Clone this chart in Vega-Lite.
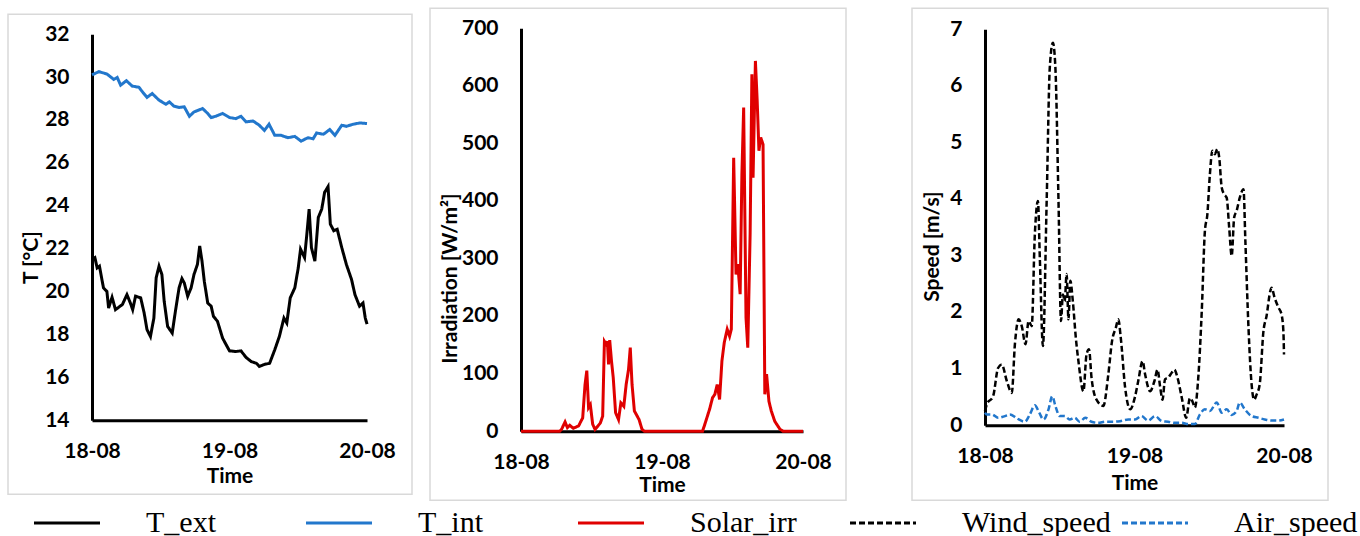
{
  "$schema": "https://vega.github.io/schema/vega-lite/v6.json",
  "padding": {"left": 7, "top": 7, "right": 0, "bottom": 0},
  "background": "white",
  "datasets": {
    "temp": [
      {"t":"2023-08-18T00:00","s":"T_ext","v":21.5},{"t":"2023-08-18T00:30","s":"T_ext","v":21.58},{"t":"2023-08-18T00:54","s":"T_ext","v":21.1},{"t":"2023-08-18T01:18","s":"T_ext","v":21.18},{"t":"2023-08-18T02:00","s":"T_ext","v":20.17},{"t":"2023-08-18T02:36","s":"T_ext","v":20.0},{"t":"2023-08-18T02:54","s":"T_ext","v":19.23},{"t":"2023-08-18T03:30","s":"T_ext","v":19.73},{"t":"2023-08-18T04:06","s":"T_ext","v":19.15},{"t":"2023-08-18T05:18","s":"T_ext","v":19.39},{"t":"2023-08-18T06:06","s":"T_ext","v":19.85},{"t":"2023-08-18T06:42","s":"T_ext","v":19.46},{"t":"2023-08-18T07:06","s":"T_ext","v":19.15},{"t":"2023-08-18T07:36","s":"T_ext","v":19.78},{"t":"2023-08-18T08:30","s":"T_ext","v":19.7},{"t":"2023-08-18T09:06","s":"T_ext","v":19.0},{"t":"2023-08-18T09:36","s":"T_ext","v":18.22},{"t":"2023-08-18T10:12","s":"T_ext","v":17.9},{"t":"2023-08-18T10:48","s":"T_ext","v":18.76},{"t":"2023-08-18T11:12","s":"T_ext","v":20.64},{"t":"2023-08-18T11:42","s":"T_ext","v":21.18},{"t":"2023-08-18T12:12","s":"T_ext","v":20.79},{"t":"2023-08-18T12:36","s":"T_ext","v":19.54},{"t":"2023-08-18T13:12","s":"T_ext","v":18.37},{"t":"2023-08-18T14:00","s":"T_ext","v":18.06},{"t":"2023-08-18T14:36","s":"T_ext","v":19.15},{"t":"2023-08-18T15:12","s":"T_ext","v":20.17},{"t":"2023-08-18T15:42","s":"T_ext","v":20.6},{"t":"2023-08-18T16:06","s":"T_ext","v":20.4},{"t":"2023-08-18T16:42","s":"T_ext","v":19.78},{"t":"2023-08-18T17:18","s":"T_ext","v":20.17},{"t":"2023-08-18T17:48","s":"T_ext","v":20.79},{"t":"2023-08-18T18:24","s":"T_ext","v":21.26},{"t":"2023-08-18T18:48","s":"T_ext","v":22.12},{"t":"2023-08-18T19:12","s":"T_ext","v":21.42},{"t":"2023-08-18T19:36","s":"T_ext","v":20.48},{"t":"2023-08-18T20:12","s":"T_ext","v":19.46},{"t":"2023-08-18T20:48","s":"T_ext","v":19.31},{"t":"2023-08-18T21:12","s":"T_ext","v":18.84},{"t":"2023-08-18T21:54","s":"T_ext","v":18.61},{"t":"2023-08-18T22:48","s":"T_ext","v":17.82},{"t":"2023-08-19T00:00","s":"T_ext","v":17.23},{"t":"2023-08-19T01:06","s":"T_ext","v":17.2},{"t":"2023-08-19T02:00","s":"T_ext","v":17.23},{"t":"2023-08-19T02:54","s":"T_ext","v":16.92},{"t":"2023-08-19T03:48","s":"T_ext","v":16.73},{"t":"2023-08-19T04:42","s":"T_ext","v":16.65},{"t":"2023-08-19T05:12","s":"T_ext","v":16.5},{"t":"2023-08-19T06:06","s":"T_ext","v":16.6},{"t":"2023-08-19T07:00","s":"T_ext","v":16.65},{"t":"2023-08-19T07:54","s":"T_ext","v":17.28},{"t":"2023-08-19T08:42","s":"T_ext","v":17.9},{"t":"2023-08-19T09:30","s":"T_ext","v":18.76},{"t":"2023-08-19T10:00","s":"T_ext","v":18.53},{"t":"2023-08-19T10:36","s":"T_ext","v":19.7},{"t":"2023-08-19T11:24","s":"T_ext","v":20.17},{"t":"2023-08-19T12:00","s":"T_ext","v":21.1},{"t":"2023-08-19T12:24","s":"T_ext","v":21.97},{"t":"2023-08-19T13:06","s":"T_ext","v":21.58},{"t":"2023-08-19T13:30","s":"T_ext","v":22.67},{"t":"2023-08-19T13:54","s":"T_ext","v":23.84},{"t":"2023-08-19T14:18","s":"T_ext","v":22.04},{"t":"2023-08-19T14:54","s":"T_ext","v":21.42},{"t":"2023-08-19T15:30","s":"T_ext","v":23.45},{"t":"2023-08-19T16:06","s":"T_ext","v":23.84},{"t":"2023-08-19T16:36","s":"T_ext","v":24.62},{"t":"2023-08-19T17:12","s":"T_ext","v":24.89},{"t":"2023-08-19T17:36","s":"T_ext","v":23.14},{"t":"2023-08-19T18:12","s":"T_ext","v":22.83},{"t":"2023-08-19T18:48","s":"T_ext","v":22.9},{"t":"2023-08-19T19:36","s":"T_ext","v":22.04},{"t":"2023-08-19T20:24","s":"T_ext","v":21.26},{"t":"2023-08-19T21:18","s":"T_ext","v":20.56},{"t":"2023-08-19T21:54","s":"T_ext","v":19.85},{"t":"2023-08-19T22:42","s":"T_ext","v":19.31},{"t":"2023-08-19T23:18","s":"T_ext","v":19.46},{"t":"2023-08-19T23:42","s":"T_ext","v":18.76},{"t":"2023-08-20T00:00","s":"T_ext","v":18.48},
      {"t":"2023-08-18T00:00","s":"T_int","v":30.1},{"t":"2023-08-18T01:12","s":"T_int","v":30.25},{"t":"2023-08-18T02:36","s":"T_int","v":30.14},{"t":"2023-08-18T03:48","s":"T_int","v":29.89},{"t":"2023-08-18T04:24","s":"T_int","v":29.98},{"t":"2023-08-18T05:00","s":"T_int","v":29.62},{"t":"2023-08-18T06:00","s":"T_int","v":29.83},{"t":"2023-08-18T07:00","s":"T_int","v":29.58},{"t":"2023-08-18T08:12","s":"T_int","v":29.52},{"t":"2023-08-18T08:48","s":"T_int","v":29.31},{"t":"2023-08-18T09:36","s":"T_int","v":29.05},{"t":"2023-08-18T10:30","s":"T_int","v":29.23},{"t":"2023-08-18T11:42","s":"T_int","v":28.92},{"t":"2023-08-18T12:54","s":"T_int","v":28.73},{"t":"2023-08-18T13:30","s":"T_int","v":28.84},{"t":"2023-08-18T14:18","s":"T_int","v":28.64},{"t":"2023-08-18T15:12","s":"T_int","v":28.58},{"t":"2023-08-18T16:06","s":"T_int","v":28.61},{"t":"2023-08-18T17:00","s":"T_int","v":28.17},{"t":"2023-08-18T17:48","s":"T_int","v":28.37},{"t":"2023-08-18T19:18","s":"T_int","v":28.53},{"t":"2023-08-18T20:12","s":"T_int","v":28.3},{"t":"2023-08-18T20:48","s":"T_int","v":28.11},{"t":"2023-08-18T21:36","s":"T_int","v":28.17},{"t":"2023-08-18T22:48","s":"T_int","v":28.3},{"t":"2023-08-19T00:00","s":"T_int","v":28.11},{"t":"2023-08-19T01:06","s":"T_int","v":28.06},{"t":"2023-08-19T02:00","s":"T_int","v":28.17},{"t":"2023-08-19T02:54","s":"T_int","v":27.91},{"t":"2023-08-19T04:06","s":"T_int","v":27.95},{"t":"2023-08-19T05:12","s":"T_int","v":27.75},{"t":"2023-08-19T06:06","s":"T_int","v":27.51},{"t":"2023-08-19T06:54","s":"T_int","v":27.8},{"t":"2023-08-19T07:54","s":"T_int","v":27.28},{"t":"2023-08-19T09:00","s":"T_int","v":27.28},{"t":"2023-08-19T10:12","s":"T_int","v":27.17},{"t":"2023-08-19T11:24","s":"T_int","v":27.23},{"t":"2023-08-19T12:30","s":"T_int","v":27.01},{"t":"2023-08-19T13:42","s":"T_int","v":27.17},{"t":"2023-08-19T14:36","s":"T_int","v":27.12},{"t":"2023-08-19T15:12","s":"T_int","v":27.39},{"t":"2023-08-19T16:24","s":"T_int","v":27.33},{"t":"2023-08-19T17:30","s":"T_int","v":27.55},{"t":"2023-08-19T18:24","s":"T_int","v":27.28},{"t":"2023-08-19T19:36","s":"T_int","v":27.75},{"t":"2023-08-19T20:24","s":"T_int","v":27.7},{"t":"2023-08-19T21:36","s":"T_int","v":27.8},{"t":"2023-08-19T22:48","s":"T_int","v":27.86},{"t":"2023-08-20T00:00","s":"T_int","v":27.83}
    ],
    "solar": [
      {"t":"2023-08-18T00:00","s":"Solar_irr","v":0},{"t":"2023-08-18T06:36","s":"Solar_irr","v":0},{"t":"2023-08-18T06:54","s":"Solar_irr","v":3},{"t":"2023-08-18T07:30","s":"Solar_irr","v":16},{"t":"2023-08-18T07:54","s":"Solar_irr","v":6},{"t":"2023-08-18T08:18","s":"Solar_irr","v":10},{"t":"2023-08-18T08:54","s":"Solar_irr","v":5},{"t":"2023-08-18T09:48","s":"Solar_irr","v":9},{"t":"2023-08-18T10:30","s":"Solar_irr","v":23},{"t":"2023-08-18T10:54","s":"Solar_irr","v":81},{"t":"2023-08-18T11:12","s":"Solar_irr","v":105},{"t":"2023-08-18T11:30","s":"Solar_irr","v":41},{"t":"2023-08-18T11:48","s":"Solar_irr","v":46},{"t":"2023-08-18T12:12","s":"Solar_irr","v":12},{"t":"2023-08-18T12:36","s":"Solar_irr","v":3},{"t":"2023-08-18T13:30","s":"Solar_irr","v":14},{"t":"2023-08-18T13:54","s":"Solar_irr","v":26},{"t":"2023-08-18T14:12","s":"Solar_irr","v":156},{"t":"2023-08-18T14:30","s":"Solar_irr","v":151},{"t":"2023-08-18T14:42","s":"Solar_irr","v":156},{"t":"2023-08-18T14:54","s":"Solar_irr","v":116},{"t":"2023-08-18T15:06","s":"Solar_irr","v":158},{"t":"2023-08-18T15:24","s":"Solar_irr","v":122},{"t":"2023-08-18T15:42","s":"Solar_irr","v":93},{"t":"2023-08-18T16:06","s":"Solar_irr","v":32},{"t":"2023-08-18T16:36","s":"Solar_irr","v":20},{"t":"2023-08-18T17:00","s":"Solar_irr","v":49},{"t":"2023-08-18T17:30","s":"Solar_irr","v":43},{"t":"2023-08-18T17:54","s":"Solar_irr","v":81},{"t":"2023-08-18T18:18","s":"Solar_irr","v":107},{"t":"2023-08-18T18:36","s":"Solar_irr","v":145},{"t":"2023-08-18T18:54","s":"Solar_irr","v":81},{"t":"2023-08-18T19:18","s":"Solar_irr","v":35},{"t":"2023-08-18T20:06","s":"Solar_irr","v":20},{"t":"2023-08-18T20:36","s":"Solar_irr","v":3},{"t":"2023-08-18T21:00","s":"Solar_irr","v":0},{"t":"2023-08-19T06:54","s":"Solar_irr","v":0},{"t":"2023-08-19T07:12","s":"Solar_irr","v":9},{"t":"2023-08-19T08:06","s":"Solar_irr","v":38},{"t":"2023-08-19T08:36","s":"Solar_irr","v":58},{"t":"2023-08-19T09:00","s":"Solar_irr","v":64},{"t":"2023-08-19T09:24","s":"Solar_irr","v":81},{"t":"2023-08-19T09:48","s":"Solar_irr","v":55},{"t":"2023-08-19T10:12","s":"Solar_irr","v":122},{"t":"2023-08-19T10:36","s":"Solar_irr","v":154},{"t":"2023-08-19T11:06","s":"Solar_irr","v":177},{"t":"2023-08-19T11:30","s":"Solar_irr","v":165},{"t":"2023-08-19T11:48","s":"Solar_irr","v":177},{"t":"2023-08-19T12:12","s":"Solar_irr","v":475},{"t":"2023-08-19T12:36","s":"Solar_irr","v":272},{"t":"2023-08-19T12:54","s":"Solar_irr","v":290},{"t":"2023-08-19T13:18","s":"Solar_irr","v":238},{"t":"2023-08-19T13:36","s":"Solar_irr","v":446},{"t":"2023-08-19T13:54","s":"Solar_irr","v":562},{"t":"2023-08-19T14:18","s":"Solar_irr","v":197},{"t":"2023-08-19T14:36","s":"Solar_irr","v":145},{"t":"2023-08-19T15:00","s":"Solar_irr","v":342},{"t":"2023-08-19T15:18","s":"Solar_irr","v":620},{"t":"2023-08-19T15:30","s":"Solar_irr","v":440},{"t":"2023-08-19T15:54","s":"Solar_irr","v":643},{"t":"2023-08-19T16:12","s":"Solar_irr","v":574},{"t":"2023-08-19T16:30","s":"Solar_irr","v":487},{"t":"2023-08-19T16:48","s":"Solar_irr","v":510},{"t":"2023-08-19T17:12","s":"Solar_irr","v":498},{"t":"2023-08-19T17:30","s":"Solar_irr","v":64},{"t":"2023-08-19T17:48","s":"Solar_irr","v":99},{"t":"2023-08-19T18:12","s":"Solar_irr","v":52},{"t":"2023-08-19T18:36","s":"Solar_irr","v":35},{"t":"2023-08-19T19:12","s":"Solar_irr","v":17},{"t":"2023-08-19T20:06","s":"Solar_irr","v":3},{"t":"2023-08-19T20:36","s":"Solar_irr","v":0},{"t":"2023-08-20T00:00","s":"Solar_irr","v":0}
    ],
    "speed": [
      {"t":"2023-08-18T00:00","s":"Wind_speed","v":0.25},{"t":"2023-08-18T00:18","s":"Wind_speed","v":0.37},{"t":"2023-08-18T01:18","s":"Wind_speed","v":0.51},{"t":"2023-08-18T02:06","s":"Wind_speed","v":1.01},{"t":"2023-08-18T02:42","s":"Wind_speed","v":1.07},{"t":"2023-08-18T03:30","s":"Wind_speed","v":0.78},{"t":"2023-08-18T04:18","s":"Wind_speed","v":0.57},{"t":"2023-08-18T04:48","s":"Wind_speed","v":1.43},{"t":"2023-08-18T05:24","s":"Wind_speed","v":1.87},{"t":"2023-08-18T05:54","s":"Wind_speed","v":1.75},{"t":"2023-08-18T06:30","s":"Wind_speed","v":1.43},{"t":"2023-08-18T07:00","s":"Wind_speed","v":1.84},{"t":"2023-08-18T07:30","s":"Wind_speed","v":1.75},{"t":"2023-08-18T08:00","s":"Wind_speed","v":3.37},{"t":"2023-08-18T08:30","s":"Wind_speed","v":3.96},{"t":"2023-08-18T08:48","s":"Wind_speed","v":2.96},{"t":"2023-08-18T09:18","s":"Wind_speed","v":1.4},{"t":"2023-08-18T09:54","s":"Wind_speed","v":3.96},{"t":"2023-08-18T10:24","s":"Wind_speed","v":6.32},{"t":"2023-08-18T10:54","s":"Wind_speed","v":6.76},{"t":"2023-08-18T11:18","s":"Wind_speed","v":6.32},{"t":"2023-08-18T11:48","s":"Wind_speed","v":3.96},{"t":"2023-08-18T12:12","s":"Wind_speed","v":1.84},{"t":"2023-08-18T12:30","s":"Wind_speed","v":2.31},{"t":"2023-08-18T12:48","s":"Wind_speed","v":2.19},{"t":"2023-08-18T13:06","s":"Wind_speed","v":2.67},{"t":"2023-08-18T13:24","s":"Wind_speed","v":1.87},{"t":"2023-08-18T13:42","s":"Wind_speed","v":2.55},{"t":"2023-08-18T14:06","s":"Wind_speed","v":2.19},{"t":"2023-08-18T14:36","s":"Wind_speed","v":1.52},{"t":"2023-08-18T15:00","s":"Wind_speed","v":1.13},{"t":"2023-08-18T15:48","s":"Wind_speed","v":0.6},{"t":"2023-08-18T16:18","s":"Wind_speed","v":1.25},{"t":"2023-08-18T16:42","s":"Wind_speed","v":1.34},{"t":"2023-08-18T17:06","s":"Wind_speed","v":0.84},{"t":"2023-08-18T17:54","s":"Wind_speed","v":0.45},{"t":"2023-08-18T19:00","s":"Wind_speed","v":0.34},{"t":"2023-08-18T19:48","s":"Wind_speed","v":0.9},{"t":"2023-08-18T20:24","s":"Wind_speed","v":1.49},{"t":"2023-08-18T21:00","s":"Wind_speed","v":1.72},{"t":"2023-08-18T21:24","s":"Wind_speed","v":1.87},{"t":"2023-08-18T21:48","s":"Wind_speed","v":1.54},{"t":"2023-08-18T22:30","s":"Wind_speed","v":0.66},{"t":"2023-08-18T23:18","s":"Wind_speed","v":0.28},{"t":"2023-08-19T00:06","s":"Wind_speed","v":0.51},{"t":"2023-08-19T00:36","s":"Wind_speed","v":0.78},{"t":"2023-08-19T01:18","s":"Wind_speed","v":1.13},{"t":"2023-08-19T01:42","s":"Wind_speed","v":0.9},{"t":"2023-08-19T02:30","s":"Wind_speed","v":0.6},{"t":"2023-08-19T03:12","s":"Wind_speed","v":0.78},{"t":"2023-08-19T03:42","s":"Wind_speed","v":0.98},{"t":"2023-08-19T04:06","s":"Wind_speed","v":0.69},{"t":"2023-08-19T04:30","s":"Wind_speed","v":0.45},{"t":"2023-08-19T04:54","s":"Wind_speed","v":0.81},{"t":"2023-08-19T05:24","s":"Wind_speed","v":0.84},{"t":"2023-08-19T06:00","s":"Wind_speed","v":0.93},{"t":"2023-08-19T06:24","s":"Wind_speed","v":0.98},{"t":"2023-08-19T06:54","s":"Wind_speed","v":0.84},{"t":"2023-08-19T07:36","s":"Wind_speed","v":0.48},{"t":"2023-08-19T08:18","s":"Wind_speed","v":0.13},{"t":"2023-08-19T08:54","s":"Wind_speed","v":0.48},{"t":"2023-08-19T09:18","s":"Wind_speed","v":0.42},{"t":"2023-08-19T09:42","s":"Wind_speed","v":0.31},{"t":"2023-08-19T10:12","s":"Wind_speed","v":0.78},{"t":"2023-08-19T10:48","s":"Wind_speed","v":2.02},{"t":"2023-08-19T11:18","s":"Wind_speed","v":3.43},{"t":"2023-08-19T11:42","s":"Wind_speed","v":3.73},{"t":"2023-08-19T12:06","s":"Wind_speed","v":4.43},{"t":"2023-08-19T12:30","s":"Wind_speed","v":4.85},{"t":"2023-08-19T12:54","s":"Wind_speed","v":4.79},{"t":"2023-08-19T13:18","s":"Wind_speed","v":4.88},{"t":"2023-08-19T13:36","s":"Wind_speed","v":4.73},{"t":"2023-08-19T14:00","s":"Wind_speed","v":4.2},{"t":"2023-08-19T14:24","s":"Wind_speed","v":4.08},{"t":"2023-08-19T14:48","s":"Wind_speed","v":4.02},{"t":"2023-08-19T15:12","s":"Wind_speed","v":3.49},{"t":"2023-08-19T15:36","s":"Wind_speed","v":2.99},{"t":"2023-08-19T16:00","s":"Wind_speed","v":3.67},{"t":"2023-08-19T16:24","s":"Wind_speed","v":3.79},{"t":"2023-08-19T16:54","s":"Wind_speed","v":4.02},{"t":"2023-08-19T17:30","s":"Wind_speed","v":4.17},{"t":"2023-08-19T17:48","s":"Wind_speed","v":3.25},{"t":"2023-08-19T18:18","s":"Wind_speed","v":1.72},{"t":"2023-08-19T18:48","s":"Wind_speed","v":0.72},{"t":"2023-08-19T19:12","s":"Wind_speed","v":0.45},{"t":"2023-08-19T19:36","s":"Wind_speed","v":0.54},{"t":"2023-08-19T20:06","s":"Wind_speed","v":0.72},{"t":"2023-08-19T20:42","s":"Wind_speed","v":1.66},{"t":"2023-08-19T21:12","s":"Wind_speed","v":1.93},{"t":"2023-08-19T21:48","s":"Wind_speed","v":2.37},{"t":"2023-08-19T22:00","s":"Wind_speed","v":2.43},{"t":"2023-08-19T22:30","s":"Wind_speed","v":2.25},{"t":"2023-08-19T23:06","s":"Wind_speed","v":2.08},{"t":"2023-08-19T23:36","s":"Wind_speed","v":1.96},{"t":"2023-08-19T23:54","s":"Wind_speed","v":1.66},{"t":"2023-08-20T00:00","s":"Wind_speed","v":1.25},
      {"t":"2023-08-18T00:00","s":"Air_speed","v":0.22},{"t":"2023-08-18T00:18","s":"Air_speed","v":0.19},{"t":"2023-08-18T01:06","s":"Air_speed","v":0.19},{"t":"2023-08-18T02:06","s":"Air_speed","v":0.13},{"t":"2023-08-18T03:12","s":"Air_speed","v":0.16},{"t":"2023-08-18T04:00","s":"Air_speed","v":0.19},{"t":"2023-08-18T05:06","s":"Air_speed","v":0.12},{"t":"2023-08-18T06:24","s":"Air_speed","v":0.06},{"t":"2023-08-18T07:12","s":"Air_speed","v":0.19},{"t":"2023-08-18T08:00","s":"Air_speed","v":0.35},{"t":"2023-08-18T08:42","s":"Air_speed","v":0.22},{"t":"2023-08-18T09:24","s":"Air_speed","v":0.1},{"t":"2023-08-18T10:12","s":"Air_speed","v":0.28},{"t":"2023-08-18T10:48","s":"Air_speed","v":0.51},{"t":"2023-08-18T11:18","s":"Air_speed","v":0.34},{"t":"2023-08-18T12:00","s":"Air_speed","v":0.16},{"t":"2023-08-18T12:48","s":"Air_speed","v":0.16},{"t":"2023-08-18T13:36","s":"Air_speed","v":0.1},{"t":"2023-08-18T14:24","s":"Air_speed","v":0.13},{"t":"2023-08-18T15:12","s":"Air_speed","v":0.06},{"t":"2023-08-18T16:06","s":"Air_speed","v":0.13},{"t":"2023-08-18T17:06","s":"Air_speed","v":0.06},{"t":"2023-08-18T18:12","s":"Air_speed","v":0.04},{"t":"2023-08-18T19:18","s":"Air_speed","v":0.06},{"t":"2023-08-18T20:36","s":"Air_speed","v":0.06},{"t":"2023-08-18T21:42","s":"Air_speed","v":0.07},{"t":"2023-08-18T23:00","s":"Air_speed","v":0.1},{"t":"2023-08-19T00:06","s":"Air_speed","v":0.1},{"t":"2023-08-19T01:06","s":"Air_speed","v":0.16},{"t":"2023-08-19T02:12","s":"Air_speed","v":0.08},{"t":"2023-08-19T03:18","s":"Air_speed","v":0.16},{"t":"2023-08-19T04:24","s":"Air_speed","v":0.07},{"t":"2023-08-19T05:24","s":"Air_speed","v":0.06},{"t":"2023-08-19T06:30","s":"Air_speed","v":0.04},{"t":"2023-08-19T07:36","s":"Air_speed","v":0.04},{"t":"2023-08-19T08:36","s":"Air_speed","v":0.02},{"t":"2023-08-19T09:42","s":"Air_speed","v":0.02},{"t":"2023-08-19T10:30","s":"Air_speed","v":0.19},{"t":"2023-08-19T11:18","s":"Air_speed","v":0.28},{"t":"2023-08-19T12:06","s":"Air_speed","v":0.25},{"t":"2023-08-19T13:12","s":"Air_speed","v":0.4},{"t":"2023-08-19T14:00","s":"Air_speed","v":0.22},{"t":"2023-08-19T14:48","s":"Air_speed","v":0.28},{"t":"2023-08-19T15:36","s":"Air_speed","v":0.18},{"t":"2023-08-19T16:24","s":"Air_speed","v":0.25},{"t":"2023-08-19T16:54","s":"Air_speed","v":0.4},{"t":"2023-08-19T17:42","s":"Air_speed","v":0.28},{"t":"2023-08-19T18:48","s":"Air_speed","v":0.16},{"t":"2023-08-19T19:54","s":"Air_speed","v":0.13},{"t":"2023-08-19T20:54","s":"Air_speed","v":0.1},{"t":"2023-08-19T22:00","s":"Air_speed","v":0.08},{"t":"2023-08-19T23:06","s":"Air_speed","v":0.08},{"t":"2023-08-20T00:00","s":"Air_speed","v":0.1}
    ]
  },
  "spacing": 16,
  "center": true,
  "resolve": {"scale": {"x": "independent", "y": "independent", "color": "shared", "strokeDash": "shared"}},
  "hconcat": [
    {
      "width": 404, "height": 480,
      "data": {"name": "temp"},
      "mark": {"type": "line", "strokeWidth": 3},
      "encoding": {
        "x": {"field": "t", "type": "temporal",
          "scale": {"domain": [{"year": 2023, "month": 8, "date": 18}, {"year": 2023, "month": 8, "date": 20}], "range": [84, 359]},
          "axis": {"title": "Time", "offset": -74, "values": [{"year": 2023, "month": 8, "date": 18}, {"year": 2023, "month": 8, "date": 19}, {"year": 2023, "month": 8, "date": 20}], "format": "%d-%m", "labelPadding": 31, "titleY": 56}},
        "y": {"field": "v", "type": "quantitative",
          "scale": {"domain": [14, 32], "range": [406, 20], "zero": false, "nice": false},
          "axis": {"title": "T [°C]", "offset": -84, "values": [14, 16, 18, 20, 22, 24, 26, 28, 30, 32], "titleX": -61, "titleY": 243}},
        "color": {"field": "s", "type": "nominal",
          "scale": {"domain": ["T_ext", "T_int", "Solar_irr", "Wind_speed", "Air_speed"], "range": ["#000000", "#2277cc", "#e00000", "#000000", "#2277cc"]},
          "legend": {"orient": "none", "legendX": 44, "legendY": 500, "direction": "horizontal"}},
        "strokeDash": {"field": "s", "type": "nominal",
          "scale": {"domain": ["T_ext", "T_int", "Solar_irr", "Wind_speed", "Air_speed"], "range": [[1, 0], [1, 0], [1, 0], [6, 3], [6, 3]]},
          "legend": {"orient": "none", "legendX": 44, "legendY": 500, "direction": "horizontal"}}
      }
    },
    {
      "spacing": 64,
      "resolve": {"scale": {"x": "independent", "y": "independent", "color": "shared", "strokeDash": "shared"}},
      "hconcat": [
        {
          "width": 416, "height": 492,
          "data": {"name": "solar"},
          "mark": {"type": "line", "strokeWidth": 3},
          "encoding": {
            "x": {"field": "t", "type": "temporal",
              "scale": {"domain": [{"year": 2023, "month": 8, "date": 18}, {"year": 2023, "month": 8, "date": 20}], "range": [91, 373]},
              "axis": {"title": "Time", "offset": -69, "values": [{"year": 2023, "month": 8, "date": 18}, {"year": 2023, "month": 8, "date": 19}, {"year": 2023, "month": 8, "date": 20}], "format": "%d-%m", "labelPadding": 31, "titleY": 54}},
            "y": {"field": "v", "type": "quantitative",
              "scale": {"domain": [0, 700], "range": [423, 20], "nice": false},
              "axis": {"title": "Irradiation [W/m²]", "offset": -91, "values": [0, 100, 200, 300, 400, 500, 600, 700], "titleX": -71, "titleY": 270}},
            "color": {"field": "s", "type": "nominal"},
            "strokeDash": {"field": "s", "type": "nominal"}
          }
        },
        {
          "width": 416, "height": 492,
          "data": {"name": "speed"},
          "mark": {"type": "line", "strokeWidth": 2.5, "interpolate": "monotone"},
          "encoding": {
            "x": {"field": "t", "type": "temporal",
              "scale": {"domain": [{"year": 2023, "month": 8, "date": 18}, {"year": 2023, "month": 8, "date": 20}], "range": [73, 372]},
              "axis": {"title": "Time", "offset": -75, "values": [{"year": 2023, "month": 8, "date": 18}, {"year": 2023, "month": 8, "date": 19}, {"year": 2023, "month": 8, "date": 20}], "format": "%d-%m", "labelPadding": 31, "titleY": 58}},
            "y": {"field": "v", "type": "quantitative",
              "scale": {"domain": [0, 7], "range": [417, 21], "nice": false},
              "axis": {"title": "Speed [m/s]", "offset": -73, "values": [0, 1, 2, 3, 4, 5, 6, 7], "titleX": -53, "titleY": 238}},
            "color": {"field": "s", "type": "nominal"},
            "strokeDash": {"field": "s", "type": "nominal"}
          }
        }
      ]
    }
  ],
  "config": {
    "view": {"stroke": "#d9d9d9", "strokeWidth": 1.5},
    "axis": {
      "labelFont": "Lato", "labelFontWeight": "bold", "labelFontSize": 21, "labelColor": "#000000",
      "titleFont": "Lato", "titleFontWeight": "bold", "titleFontSize": 21, "titleColor": "#000000",
      "domainColor": "#000000", "domainWidth": 3, "ticks": false, "tickSize": 0, "grid": false,
      "labelFlush": false, "labelOverlap": false, "labelBound": false
    },
    "axisX": {"labelBaseline": "middle", "titleBaseline": "middle", "titleAlign": "center"},
    "axisY": {"labelPadding": 23, "titleAngle": -90, "titleBaseline": "middle", "titleAlign": "center"},
    "legend": {
      "title": null, "symbolType": "M-6,0H6", "symbolSize": 121, "symbolStrokeWidth": 3,
      "labelFont": "Liberation Serif", "labelFontSize": 30, "labelFontWeight": "normal", "labelColor": "#000000",
      "labelOffset": 64, "columnPadding": 5, "gridAlign": "all", "labelLimit": 0, "padding": 0
    }
  }
}
